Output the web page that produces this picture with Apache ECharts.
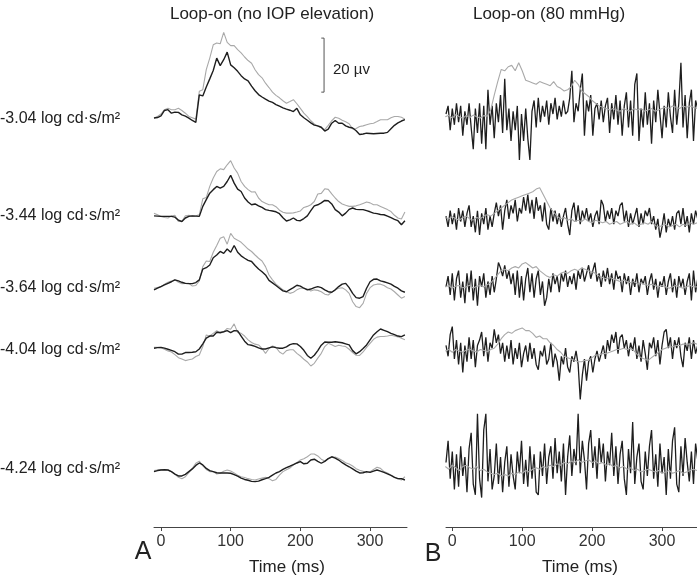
<!DOCTYPE html>
<html>
<head>
<meta charset="utf-8">
<script src="https://cdn.jsdelivr.net/npm/echarts@6/dist/echarts.min.js"></script>
<style>
  html, body { margin: 0; padding: 0; background: #fff; }
  #chart { width: 697px; height: 577px; }
</style>
</head>
<body>
<div id="chart"></div>
<script>
// sampling times (ms)
const tA = [-10,-5,0,5,10,15,20,25,30,35,40,45,50,55,60,65,70,75,80,85,90,95,100,105,110,115,120,125,130,135,140,145,150,155,160,165,170,175,180,185,190,195,200,205,210,215,220,225,230,235,240,245,250,255,260,265,270,275,280,285,290,295,300,305,310,315,320,325,330,335,340,345,350]
const tB = [-9,-6,-3,0,3,6,9,12,15,18,21,24,27,30,33,36,39,42,45,48,51,54,57,60,63,66,69,72,75,78,81,84,87,90,93,96,99,102,105,108,111,114,117,120,123,126,129,132,135,138,141,144,147,150,153,156,159,162,165,168,171,174,177,180,183,186,189,192,195,198,201,204,207,210,213,216,219,222,225,228,231,234,237,240,243,246,249,252,255,258,261,264,267,270,273,276,279,282,285,288,291,294,297,300,303,306,309,312,315,318,321,324,327,330,333,336,339,342,345,348,351]

const intensities = ['-3.04 log cd·s/m²', '-3.44 log cd·s/m²', '-3.64 log cd·s/m²', '-4.04 log cd·s/m²', '-4.24 log cd·s/m²']
const tickValues = [0, 100, 200, 300]

// panel A, loop-on without IOP elevation (µV)
const aBlack1 = [-0.1,0.1,0.7,2.7,3.0,1.7,2.1,2.0,1.1,0.6,-0.1,-1.0,-1.7,8.5,8.1,11.4,14.4,17.5,22.1,19.3,21.5,24.3,19.6,18.5,17.2,15.6,14.4,13.7,11.7,10.0,8.6,7.7,6.9,6.2,5.7,4.9,4.3,3.7,3.2,2.8,2.3,3.5,1.1,0,-0.9,-1.9,-2.7,-3.0,-3.5,-4.9,-4.2,-2.0,-1.0,-2.0,-2.0,-3.0,-3.5,-3.8,-4.8,-6.2,-6.0,-5.7,-5.8,-5.9,-5.8,-5.7,-5.7,-5.4,-4.1,-2.8,-1.9,-1.2,-0.7]
const aGray1 = [-0.1,0.5,1.4,3.0,3.5,3.0,3.0,3.5,2.7,1.7,0.5,0,-0.5,9.8,10.4,17.8,22.1,27.0,27.7,27.4,31.6,27.9,26.7,26.7,25.2,24.0,22.5,21.2,20.2,17.8,16.0,14.8,12.8,11.2,9.5,8.3,7.4,6.3,5.4,6.0,6.7,5.2,3.5,1.7,0.4,-1.1,-2.3,-3.1,-3.7,-4.4,-2.8,-1.1,0.2,-0.2,-0.9,-1.5,-2.2,-4.1,-4.0,-3.2,-3.0,-2.6,-2.2,-2.0,-1.4,-0.7,-0.7,-0.7,0,0.5,0.5,0.2,-0.5]
const aBlack2 = [-0.4,-0.5,-0.6,-0.6,-0.6,-0.6,-0.9,-2.0,-2.5,-1.2,-0.6,-0.4,-0.5,-0.6,3.1,5.6,8.0,9.3,10.5,9.9,10.5,12.3,14.6,11.7,9.5,8.6,6.2,4.7,3.7,4.0,3.3,2.7,1.9,1.6,1.4,1.1,0.4,-1.1,-2.3,-1.9,-1.2,-2.1,-2.2,-1.4,-0.4,1.5,3.3,3.7,4.4,5.3,5.2,4.0,1.9,1.0,-0.4,0.6,2.0,2.5,2.0,1.9,1.9,1.5,1.1,0.6,0.4,0.1,0,-0.5,-1.1,-1.7,-2.2,-3.7,-2.2]
const aGray2 = [0.6,0,-0.6,-1.0,-1.2,-0.5,-0.2,-2.5,-2.5,-0.4,-0.2,-0.6,-0.4,0,5.9,6.4,10.5,13.6,16.0,17.0,16.7,18.5,20.0,17.3,15.4,12.3,10.5,9.3,8.4,8.5,6.2,4.9,4.3,3.7,3.7,3.0,1.7,0.9,0.6,0.6,0.7,1.0,1.4,2.7,3.1,3.7,4.9,7.7,7.9,9.6,9.4,7.7,6.2,4.9,4.0,3.5,3.1,3.1,3.3,3.7,4.2,4.7,4.4,3.7,3.7,3.1,2.5,1.9,1.2,-0.2,-1.2,-1.6,1.0]
const aBlack3 = [-0.7,-0.1,0.5,1.1,1.7,2.3,3.0,2.6,2.1,1.7,1.6,1.6,2.0,3.0,7.0,7.5,8.5,11.2,12.2,13.5,12.8,14.4,13.2,15.7,13.2,11.9,11.0,10.2,9.8,8.3,7.0,6.0,4.8,2.8,1.9,0.9,-0.1,-1.1,-1.4,-0.6,0.1,1.0,0.7,-0.1,-0.7,-0.4,0.1,0.5,0.1,-0.7,-1.4,-1.6,-0.7,0.5,1.4,1.7,0.1,-2.0,-3.6,-3.8,-3.2,-0.1,2.3,3.2,3.3,2.6,2.3,1.9,1.4,0.6,-0.1,-1.1,-1.6]
const aGray3 = [-0.1,0.2,0.5,1.4,2.1,2.6,3.0,2.1,1.6,1.7,1.7,0.7,0.9,2.6,7.9,10.0,9.8,13.2,15.7,18.4,19.0,16.2,20.2,18.4,17.7,16.9,15.7,14.4,13.5,12.2,11.0,10.0,7.9,4.8,3.0,1.4,0.4,-0.7,-1.4,-2.0,-1.6,-0.7,-0.1,-0.1,-0.4,-1.1,-0.7,-0.9,-1.4,-2.3,-2.6,-1.6,-0.7,-0.1,0.1,-0.7,-2.0,-5.1,-6.9,-7.3,-5.7,-2.0,0.1,1.1,1.4,1.4,0.9,0.1,-0.4,-1.4,-2.6,-3.8,-3.2]
const aBlack4 = [-0.1,0.1,0.2,-0.1,-0.5,-0.9,-1.4,-2.3,-2.3,-1.7,-1.7,-1.6,-1.4,-0.4,1.5,3.6,4.4,4.4,5.8,5.7,6.0,6.4,5.7,6.4,6.3,4.4,2.5,1.2,1.0,0.6,0,-0.4,-0.4,0,0.4,0.1,-0.1,-0.1,0.4,1.2,1.6,1.5,0.5,-0.9,-2.8,-3.8,-2.7,-1.0,1.0,2.2,2.1,2.1,2.3,2.1,1.9,1.5,1.1,-1.0,-2.2,-1.4,-0.2,1.1,3.0,4.8,6.0,7.0,6.5,6.0,5.4,4.9,4.4,4.2,4.8]
const aGray4 = [0.2,0.2,0.1,-0.5,-1.1,-1.5,-2.5,-3.6,-4.1,-4.7,-4.4,-4.1,-3.2,-2.6,0.5,4.8,4.4,5.4,6.4,5.4,5.9,7.2,6.9,8.9,5.7,5.4,4.4,3.0,2.0,1.4,1.1,-0.2,-2.0,-0.2,0.7,0.2,-1.5,-2.3,-1.0,-0.7,-0.7,-2.0,-3.0,-4.2,-5.2,-6.7,-5.7,-3.8,-2.0,0.5,1.7,1.2,0.5,1.0,0.7,0.5,-0.5,-1.7,-2.7,-2.8,-1.5,0.2,1.7,3.2,4.0,4.2,4.2,4.4,4.7,4.4,4.1,3.6,3.0]
const aBlack5 = [-0.6,-0.2,0,0.1,0,-0.6,-1.5,-2.2,-2.2,-1.6,-0.6,0.4,1.7,2.6,1.9,0.6,-0.2,-0.6,-1.0,-1.1,-1.1,-1.1,-1.2,-1.7,-2.3,-3.0,-3.5,-3.8,-4.2,-4.3,-4.1,-3.6,-3.2,-2.7,-1.9,-1.1,-0.6,0.2,0.9,1.4,2.0,2.6,3.1,2.3,2.5,3.7,4.0,3.2,2.5,3.2,4.2,4.9,4.4,3.7,2.7,1.9,1.2,0.4,-0.4,-1.1,-1.0,-0.6,-0.9,-0.4,0,-0.4,-0.9,-1.4,-2.0,-2.7,-3.2,-3.2,-3.7]
const aGray5 = [-0.2,0,0.2,0.1,0,-0.6,-1.5,-2.7,-3.2,-2.5,-1.0,0.6,2.5,3.3,1.5,0.2,-0.6,-0.6,-1.5,-1.2,-0.5,0,-0.4,-1.1,-1.9,-2.5,-2.8,-3.2,-3.5,-3.7,-3.3,-3.0,-2.7,-3.2,-4.0,-3.5,-1.9,-0.6,0.1,0.7,1.9,2.7,3.7,4.2,4.9,5.9,5.9,5.2,4.0,3.3,4.2,4.7,4.8,4.3,3.5,2.7,2.2,1.5,0.5,-0.1,-0.5,-1.0,-0.6,0.2,1.0,0.6,-0.6,-1.1,-1.9,-2.6,-3.2,-3.7,-2.5]

// panel B, loop-on at 80 mmHg (µV); black on tB, grey on tA
const bBlack1 = [1,4,-5,3,-3,5,-2,4,-7,2,-3,5,-4,-12,3,-6,5,-10,4,-12,10,-3,4,-8,5,-2,8,-6,14,-5,3,-9,2,-5,4,-16,1,-9,3,-8,-16,2,6,-4,7,-2,4,0,6,-3,5,1,7,-1,4,0,6,1,2,7,17,-2,5,2,10,16,-7,6,2,8,-7,3,5,-1,6,-2,4,7,-6,5,-1,8,-3,6,-7,4,9,-4,6,-7,12,16,-9,3,-4,9,-3,5,-10,6,-2,10,1,-8,4,-4,9,0,-6,10,-3,5,20,-4,8,-8,5,10,-9,6,3]
const bGray1 = [0,0.5,-0.5,0.8,0,-0.6,0.5,-0.3,0.6,0,-0.5,0.4,0.2,2.5,8,13,17.5,17,18.5,19,17,20,17,13.5,13,12.5,12,13,12.5,12,11.5,13,11.2,10.5,9.5,10,11,13.5,12,9.5,8.5,7.5,6,5,4,3.5,3,2.5,3,2.5,2,3,2.5,2,3,2.5,3,2,2.5,3,2,2.5,3,3.5,3,4,3.5,3,4,3.5,4,3.5,3]
const bBlack2 = [1,-3,3,-2,2,-4,4,-1,3,-3,2,5,-3,1,-5,3,-6,2,-2,4,-4,1,-3,2,6,1,5,-4,3,7,0,5,2,7,-1,4,2,8,3,9,2,7,0,8,3,5,-1,6,-2,-4,4,-1,3,-2,2,-3,1,4,-2,-6,3,6,-1,5,-2,3,0,4,-1,2,-3,1,3,-2,7,5,-1,3,0,4,-2,3,1,5,6,-1,3,-3,2,-2,1,4,-3,2,-2,3,1,4,-2,1,-4,0,-7,-3,2,-5,0,-3,1,-4,2,3,-2,4,-3,1,-5,2,-2,3,0]
const bGray2 = [0.5,0,0.8,0,-0.5,0.5,1,0,-0.5,0.5,0,1,1.5,1,2,3,4,5,6,7,7.5,8,8.5,9,9.5,10,11,11.5,9,6.5,4,2.5,1,0,0.5,-0.5,0,-1,-0.5,-1,0,-1,-1.5,-0.5,-1,-1.5,-1,-2,-1.5,-1,-2,-1.5,-1,-2,-1.5,-2.5,-2,-1.5,-2,-1,-2.5,-3,-2.5,-2,-3,-2.5,-2,-3,-2,-2.5,-1.5,-2,-1.5]
const bBlack3 = [0,4,-3,5,-5,3,6,-4,2,-6,5,-2,6,-5,3,-7,4,0,5,-4,2,-3,4,-2,3,9,7,4,8,3,6,1,5,-3,6,-4,4,-5,3,7,-2,5,-4,3,6,-3,2,-7,-4,3,-2,5,1,4,-2,5,2,6,0,4,1,5,-1,6,3,7,2,5,8,3,6,9,2,5,0,6,2,7,1,5,-1,6,3,4,-2,5,1,4,-3,3,0,5,-2,3,1,4,-3,2,5,-1,3,-4,2,0,4,-3,2,5,-2,3,-4,4,0,3,-3,2,5,-5,6,-2,3]
const bGray3 = [0,0.5,-0.5,0.3,0.5,-0.3,0,0.6,-0.4,0.2,0.5,0,0.8,1.5,3,4.5,6,6.5,6,7,7.5,7,8.5,9,8,7,7.5,6,5,4,3.5,4.5,4,5,5.5,5,6,6.5,6,7,6.5,6,5.5,5,4,3.5,3,3.5,3,2.5,2,2.5,2,1.5,2,1,1.5,1,0.5,1,0.5,0,0.5,0,-0.5,0,0.5,0,-0.5,0,0.5,0,0]
const bBlack4 = [2,-2,6,9,-3,4,-5,3,-8,2,-4,5,-3,4,-6,2,4,7,-2,5,-4,3,1,8,3,6,-1,3,-4,2,-3,4,-5,1,-3,3,-6,-1,2,-4,3,-3,1,-5,-7,0,-2,2,-5,-3,3,-6,-1,-4,-11,-2,-5,1,-6,-8,-2,-4,0,-5,-18,-9,-3,-11,-4,-2,-8,-3,0,-4,-1,2,-3,4,0,6,3,7,-1,5,6,1,4,-2,3,0,5,-3,2,-4,4,-1,-7,3,1,5,-2,4,-5,2,7,8,1,5,-3,4,1,5,-2,-6,3,0,5,-3,4,-1,2]
const bGray4 = [0,0.5,-0.5,0.5,0,-0.5,0.3,0.6,0,-0.4,0.5,0.2,-0.3,0.5,1,2.5,4.5,6,7,6.5,7.5,8,8.5,7.5,7.5,6.5,5,5.5,4.5,4.5,3,2,0.5,-0.5,-2,-2.5,-3,-3.5,-4,-4,-3.5,-3.5,-2.5,-1.5,-1.5,-1,-1,-0.5,0,0.5,0.5,1,0.5,1,0,-1.5,-2.5,-3,-3.5,-2.5,-1.5,-0.5,0.5,1,1.5,1.5,2,2,2.5,2.5,2.5,3,2.5]
const bBlack5 = [2,10,-4,6,-8,5,-7,8,-3,4,-9,7,13,-6,-10,20,-4,-11,14,20,-5,7,-8,-3,9,-6,4,-9,2,8,-7,5,-3,-8,6,-2,10,-6,3,-7,8,-4,5,-9,-10,6,-3,9,-6,4,8,-4,11,-2,6,-5,9,-10,4,12,-3,7,1,20,-2,10,3,-8,9,14,0,8,-4,11,2,9,-5,6,1,13,-3,8,-6,5,10,-4,-10,7,-2,17,-6,4,9,-5,-8,6,-3,8,14,-4,5,-7,9,-2,4,-10,7,-4,10,15,-6,-9,8,-3,11,2,-5,6,-6,9,3]
const bGray5 = [0.5,-0.5,1,0,-1,0.5,1,0,-0.5,0.5,-1,-0.5,-1.5,-2,-2.5,-2,-3,-2.5,-3,-2,-2.5,-1.5,-2,-1,-1.5,-0.5,0,-0.5,0.5,0,1,0.5,1.5,1,2,1.5,2.5,2,3,2,2.5,3,2,2.5,1.5,2,1,1.5,0.5,1,0,0.5,-0.5,0,-1,-0.5,-1.5,-1,-0.5,-1,-1.5,-1,-2,-1.5,-1,-2,-1.5,-1,-2,-1.5,-1,-0.5,-1]

const aBlack = [aBlack1, aBlack2, aBlack3, aBlack4, aBlack5]
const aGray = [aGray1, aGray2, aGray3, aGray4, aGray5]
const bBlack = [bBlack1, bBlack2, bBlack3, bBlack4, bBlack5]
const bGray = [bGray1, bGray2, bGray3, bGray4, bGray5]

// vertical stacking of the traces (µV on the hidden y axis)
const offsetA = [151.5, 115.6, 88.5, 66.3, 21.1]
const offsetB = [151.9, 114.1, 88.9, 65.2, 21.9]
const labelY = [119, 216, 288, 350, 469]

// 20 µV calibration bar, panel A coordinates
const scaleBar = { t: 234, base: 161, size: 20 }

const FONT = '"Liberation Sans", Arial, sans-serif'
const BLACK = '#1e1e1e'
const GREY = '#a9a9a9'

const chart = echarts.init(document.getElementById('chart'))

const trace = (t, values, offset, axis, color, width) => ({
  type: 'line',
  xAxisIndex: axis,
  yAxisIndex: axis,
  data: t.map((x, i) => [x, offset + values[i]]),
  symbol: 'none',
  lineStyle: { color, width },
  silent: true
})

const series = []
for (let i = 0; i < 5; i++) {
  series.push(trace(tA, aGray[i], offsetA[i], 0, GREY, 1.1))
  series.push(trace(tA, aBlack[i], offsetA[i], 0, BLACK, 1.4))
  series.push(trace(tB, bBlack[i], offsetB[i], 1, BLACK, 1.3))
  series.push(trace(tA, bGray[i], offsetB[i], 1, GREY, 1.1))
}
const sb = scaleBar
series.push({
  type: 'line',
  xAxisIndex: 0,
  yAxisIndex: 0,
  data: [[sb.t - 4, sb.base + sb.size], [sb.t, sb.base + sb.size], [sb.t, sb.base], [sb.t - 4, sb.base]],
  symbol: 'none',
  lineStyle: { color: '#555', width: 1 },
  silent: true
})

const xAxisBase = {
  type: 'value',
  splitLine: { show: false },
  axisLine: { lineStyle: { color: '#444', width: 1 } },
  axisTick: { customValues: tickValues, length: 4, lineStyle: { color: '#444' } },
  axisLabel: { customValues: tickValues, color: '#333', fontSize: 16, fontFamily: FONT, margin: 7 }
}

const text = (str, x, y, size, align) => ({
  type: 'text',
  x, y,
  style: {
    text: str, font: size + 'px ' + FONT, fill: '#222',
    textAlign: align, align: align, textVerticalAlign: 'middle', verticalAlign: 'middle'
  }
})

const graphics = [
  text('Loop-on (no IOP elevation)', 272, 14, 17, 'center'),
  text('Loop-on (80 mmHg)', 549, 14, 17, 'center'),
  text('20 µv', 333, 70, 15, 'left'),
  text('Time (ms)', 287, 567, 17, 'center'),
  text('Time (ms)', 580, 567, 17, 'center'),
  text('A', 143, 552, 25, 'center'),
  text('B', 433, 554, 25, 'center')
]
intensities.forEach((s, i) => graphics.push(text(s, 0, labelY[i], 16, 'left')))

const option = {
  animation: false,
  backgroundColor: '#fff',
  grid: [
    { left: 154, width: 253, top: 30, height: 497 },
    { left: 446, width: 251.3, top: 30, height: 497 }
  ],
  xAxis: [
    Object.assign({ gridIndex: 0, min: -10, max: 353 }, xAxisBase),
    Object.assign({ gridIndex: 1, min: -9, max: 350 }, xAxisBase)
  ],
  yAxis: [
    { type: 'value', gridIndex: 0, min: 0, max: 184, show: false },
    { type: 'value', gridIndex: 1, min: 0, max: 184, show: false }
  ],
  series,
  graphic: graphics
}

chart.setOption(option)
window.addEventListener('resize', () => chart.resize())
</script>
</body>
</html>
